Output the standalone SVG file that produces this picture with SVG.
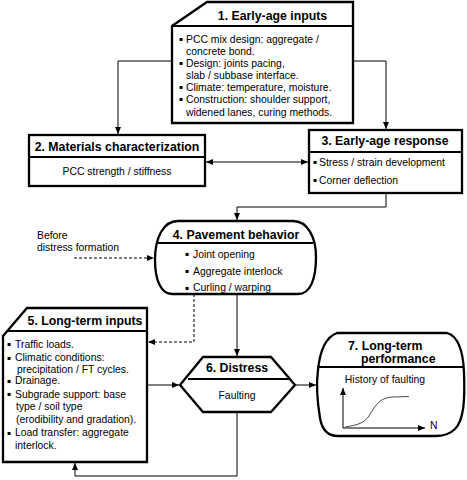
<svg xmlns="http://www.w3.org/2000/svg" width="467" height="480" viewBox="0 0 467 480">
<style>
.box{fill:#fff;stroke:#000;stroke-width:2.3;stroke-linejoin:miter}
.div{stroke:#000;stroke-width:2.2;fill:none}
.ttl{font-family:"Liberation Sans",Arial,sans-serif;font-weight:bold;font-size:12.3px;fill:#000}
.txt{font-family:"Liberation Sans",Arial,sans-serif;font-size:10.4px;fill:#000}
.bul{font-family:"DejaVu Sans",sans-serif;font-size:6px;fill:#000}
.c{fill:none;stroke:#000;stroke-width:1}
.d{fill:none;stroke:#000;stroke-width:1;stroke-dasharray:3,2}
</style>
<defs>
<marker id="ah" markerUnits="userSpaceOnUse" markerWidth="8" markerHeight="7" refX="7" refY="3" orient="auto-start-reverse" viewBox="0 0 8 7">
<path d="M0,0 L7,3 L0,6 Z" fill="#000"/>
</marker>
</defs>
<rect width="467" height="480" fill="#fff"/>

<g id="connectors">
<path class="c" d="M172,61 H118 V134" marker-end="url(#ah)"/>
<path class="c" d="M353,61 H386 V129" marker-end="url(#ah)"/>
<path class="c" d="M206,162 H308" marker-start="url(#ah)" marker-end="url(#ah)"/>
<path class="c" d="M386,193 V207 H237 V220" marker-end="url(#ah)"/>
<path class="d" d="M74,258 H154" marker-end="url(#ah)"/>
<path class="d" d="M194,294 V342 H148" marker-end="url(#ah)"/>
<path class="c" d="M237,294 V356" marker-end="url(#ah)"/>
<path class="c" d="M147,385 H179" marker-end="url(#ah)"/>
<path class="c" d="M295,385 H316" marker-end="url(#ah)"/>
<path class="c" d="M237,412 V476 H75 V463" marker-end="url(#ah)"/>
<text class="txt" x="37" y="239">Before</text>
<text class="txt" x="37" y="251">distress formation</text>
</g>

<g id="node1">
<path class="box" d="M172,26 L207,2 L353,2 L353,123 L172,123 Z"/>
<line class="div" x1="172" y1="26" x2="353" y2="26"/>
<text class="ttl" x="272.5" y="20" text-anchor="middle">1. Early-age inputs</text>
<text class="bul" x="179" y="41">▪</text>
<text class="txt" x="186" y="42.7">PCC mix design: aggregate /</text>
<text class="txt" x="186" y="54.5">concrete bond.</text>
<text class="bul" x="179" y="65">▪</text>
<text class="txt" x="186" y="66.5">Design: joints pacing,</text>
<text class="txt" x="186" y="78.5">slab / subbase interface.</text>
<text class="bul" x="179" y="89">▪</text>
<text class="txt" x="186" y="90.7">Climate: temperature, moisture.</text>
<text class="bul" x="179" y="101">▪</text>
<text class="txt" x="186" y="102.7">Construction: shoulder support,</text>
<text class="txt" x="186" y="116">widened lanes, curing methods.</text>
</g>

<g id="node2">
<rect class="box" x="29" y="135" width="176" height="51"/>
<line class="div" x1="29" y1="157" x2="205" y2="157"/>
<text class="ttl" x="117" y="151" text-anchor="middle">2. Materials characterization</text>
<text class="txt" x="117" y="174.5" text-anchor="middle">PCC strength / stiffness</text>
</g>

<g id="node3">
<rect class="box" x="309" y="130" width="153" height="63"/>
<line class="div" x1="309" y1="152" x2="462" y2="152"/>
<text class="ttl" x="385" y="144.5" text-anchor="middle">3. Early-age response</text>
<text class="bul" x="313" y="164">▪</text>
<text class="txt" x="319" y="165.5">Stress / strain development</text>
<text class="bul" x="313" y="182">▪</text>
<text class="txt" x="319" y="183.5">Corner deflection</text>
</g>

<g id="node4">
<path class="box" d="M178,221 L293,221 C308,221 316,238 316,257 C316,280 310,294 298,294 L172,294 C162,294 155,282 155,260 C155,238 163,221 178,221 Z"/>
<line class="div" x1="158" y1="243" x2="313" y2="243"/>
<text class="ttl" x="236" y="239" text-anchor="middle">4. Pavement behavior</text>
<text class="bul" x="185" y="256">▪</text>
<text class="txt" x="193" y="257.7">Joint opening</text>
<text class="bul" x="185" y="273">▪</text>
<text class="txt" x="193" y="274.5">Aggregate interlock</text>
<text class="bul" x="185" y="289.5">▪</text>
<text class="txt" x="193" y="291">Curling / warping</text>
</g>

<g id="node5">
<path class="box" d="M3,336 L27,308 L147,308 L147,462 L3,462 Z"/>
<line class="div" x1="7" y1="331" x2="147" y2="331"/>
<text class="ttl" x="85" y="325" text-anchor="middle">5. Long-term inputs</text>
<text class="bul" x="7" y="346">▪</text>
<text class="txt" x="15" y="347.5">Traffic loads.</text>
<text class="bul" x="7" y="359.5">▪</text>
<text class="txt" x="15" y="361">Climatic conditions:</text>
<text class="txt" x="17" y="373">precipitation / FT cycles.</text>
<text class="bul" x="7" y="382.5">▪</text>
<text class="txt" x="15" y="384">Drainage.</text>
<text class="bul" x="7" y="396">▪</text>
<text class="txt" x="15" y="397.5">Subgrade support: base</text>
<text class="txt" x="16" y="410">type / soil type</text>
<text class="txt" x="16" y="422.7">(erodibility and gradation).</text>
<text class="bul" x="7" y="434.5">▪</text>
<text class="txt" x="15" y="436">Load transfer: aggregate</text>
<text class="txt" x="15" y="448.7">interlock.</text>
</g>

<g id="node6">
<path class="box" d="M203,357 L271,357 L295,385 L271,412 L203,412 L180,385 Z"/>
<line class="div" x1="188" y1="379" x2="289" y2="379"/>
<text class="ttl" x="237" y="372" text-anchor="middle">6. Distress</text>
<text class="txt" x="237" y="399" text-anchor="middle">Faulting</text>
</g>

<g id="node7">
<path class="box" d="M337,333 L447,333 C458,336 463,350 464,372 C465,400 464,420 455,429 C450,434 445,436 435,436 L338,436 C328,436 322,430 320,418 C317,400 316,385 318,370 C320,350 326,337 337,333 Z"/>
<line class="div" x1="317" y1="367" x2="464" y2="367"/>
<text class="ttl" x="348" y="350">7. Long-term</text>
<text class="ttl" x="361" y="363">performance</text>
<text class="txt" x="385" y="383.3" text-anchor="middle">History of faulting</text>
<path class="c" d="M343,428 V388" marker-end="url(#ah)"/>
<path class="c" d="M343,428 H425" marker-end="url(#ah)"/>
<path d="M345,427 C358,425 364,423 369,416 C375,406 379,398 392,397 L409,396.5" fill="none" stroke="#333" stroke-width="0.9"/>
<text class="txt" x="430" y="428.5">N</text>
</g>
</svg>
